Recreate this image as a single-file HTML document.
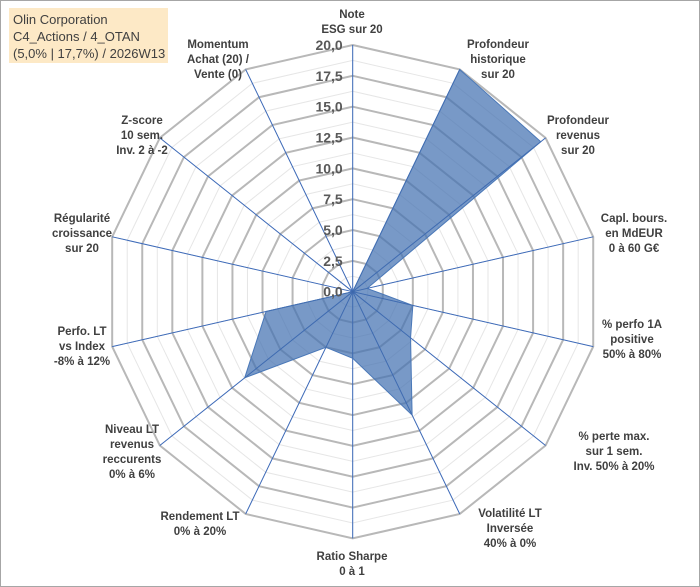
<!DOCTYPE html>
<html><head><meta charset="utf-8"><style>
body{margin:0;background:#fff;}
#wrap{position:relative;width:700px;height:587px;overflow:hidden;}
svg text{font-family:"Liberation Sans",sans-serif;}
</style></head><body>
<div id="wrap">
<svg id="chart" width="700" height="587" xmlns="http://www.w3.org/2000/svg">
<rect x="0.5" y="0.5" width="699" height="586" fill="#fff" stroke="#a6a6a6"/>
<rect x="9" y="8" width="159" height="55" fill="#fde9c6"/>
<text x="13" y="24" font-size="13" fill="#404040">Olin Corporation</text>
<text x="13" y="41" font-size="13" fill="#404040">C4_Actions / 4_OTAN</text>
<text x="13" y="58" font-size="13" fill="#404040">(5,0% | 17,7%) / 2026W13</text>
<g id="grid"></g><g id="series"></g><g id="ticks"></g><g id="labels"></g>
</svg>
</div>
<script>
const categories=[["Note","ESG sur 20"],["Profondeur","historique","sur 20"],["Profondeur","revenus","sur 20"],["Capl. bours.","en MdEUR","0 à 60 G€"],["% perfo 1A","positive","50% à 80%"],["% perte max.","sur 1 sem.","Inv. 50% à 20%"],["Volatilité LT","Inversée","40% à 0%"],["Ratio Sharpe","0 à 1"],["Rendement LT","0% à 20%"],["Niveau LT","revenus","reccurents","0% à 6%"],["Perfo. LT","vs Index","-8% à 12%"],["Régularité","croissance","sur 20"],["Z-score","10 sem.","Inv. 2 à -2"],["Momentum","Achat (20) /","Vente (0)"]];
const values=[0,20,19.5,1.2,5,6,11.1,5.4,5,11.2,7.2,0,0,0];
const tickLabels=["0,0","2,5","5,0","7,5","10,0","12,5","15,0","17,5","20,0"];
const maxVal=20;
const labelPos=[[352,18],[498,48],[578,124],[634,222],[632,328],[614,440],[510,517],[352,560],[200,520],[132,433],[82,335],[82,222],[142,124],[218,48]];
const cx=352.7,cy=291.7,R=246.7,N=categories.length,NS="http://www.w3.org/2000/svg";
function pt(i,v){const a=2*Math.PI*i/N;const r=v/maxVal*R;return [cx+r*Math.sin(a),cy-r*Math.cos(a)];}
function mk(tag,attrs,parent){const e=document.createElementNS(NS,tag);for(const k in attrs)e.setAttribute(k,attrs[k]);parent.appendChild(e);return e;}
const grid=document.getElementById('grid');
for(let s=1;s<=16;s++){const v=s*1.25;const p=[];for(let i=0;i<N;i++)p.push(pt(i,v).join(','));
const g=mk('polygon',{points:p.join(' '),fill:'none',stroke:s%2?'#e6e6e6':'#b8b8b8','stroke-width':s%2?1:2},grid);

}
for(let i=0;i<N;i++){const e=pt(i,maxVal);const l=mk('line',{x1:cx,y1:cy,x2:e[0],y2:e[1],stroke:'#4472c4','stroke-width':1},grid);

}
const ser=document.getElementById('series');
const poly=mk('polygon',{points:values.map((v,i)=>pt(i,v).join(',')).join(' '),fill:'rgba(68,114,178,0.72)',stroke:'#4a78b8','stroke-width':1},ser);


for(let i=0;i<N;i++){const e=pt(i,maxVal);const l=mk('line',{x1:cx,y1:cy,x2:e[0],y2:e[1],stroke:'#3d66aa','stroke-width':0.7,opacity:0.6},ser);

}
const tk=document.getElementById('ticks');
tickLabels.forEach((t,k)=>{const y=cy-k*2.5/maxVal*R;const tx=mk('text',{x:cx-10,y:y+5,'text-anchor':'end','font-size':14,'font-weight':'bold',fill:'#595959'},tk);tx.textContent=t;

});
const lb=document.getElementById('labels');
categories.forEach((c,i)=>{const [x,y]=labelPos[i];const t=mk('text',{x:x,y:y,'text-anchor':'middle','font-size':11.5,'font-weight':'bold',fill:'#404040'},lb);


c.forEach((line,j)=>{const s=mk('tspan',{x:x,dy:j?15:0},t);s.textContent=line;});});
</script>
</body></html>
